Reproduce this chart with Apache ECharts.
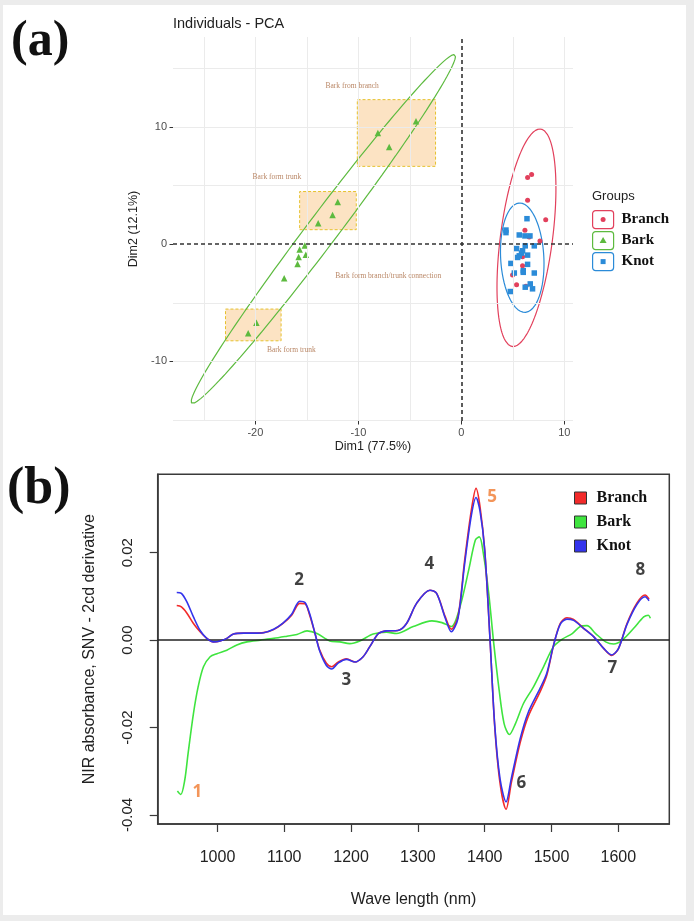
<!DOCTYPE html>
<html><head><meta charset="utf-8">
<script src="https://cdn.jsdelivr.net/npm/echarts/dist/echarts.min.js"></script>
<style>
html,body{margin:0;padding:0;background:#ececec;width:694px;height:921px;overflow:hidden;}
#frame{position:absolute;left:3px;top:5px;width:683px;height:910px;background:#fff;}
#chart{position:absolute;left:0;top:0;width:694px;height:921px;}
</style></head><body>
<div id="frame"></div><div id="chart"></div>
<script>
// ===== Panel (a): PCA individuals =====
const groupNames = ['Branch', 'Bark', 'Knot'];
const groupColors = ['#E2405C', '#5DBA3F', '#2B8BD8'];
const branchPts = [[6.44,5.7],[6.83,5.95],[6.44,3.75],[8.2,2.1],[6.18,1.2],[6.6,0.62],[7.64,0.28],[5.95,-1.07],[5.95,-1.84],[4.98,-2.63],[5.37,-3.47],[6.28,-3.59]];
const barkPts = [[-8.1,9.5],[-7.0,8.3],[-4.4,10.5],[-12.0,3.6],[-12.5,2.5],[-13.9,1.8],[-15.2,-0.1],[-15.7,-0.45],[-15.8,-1.1],[-15.1,-0.9],[-15.9,-1.7],[-17.2,-2.9],[-19.9,-6.7],[-20.7,-7.6]];
const knotPts = [[6.38,2.18],[4.34,1.21],[4.34,0.99],[5.63,0.79],[6.18,0.71],[6.67,0.71],[7.09,-0.14],[6.21,-0.14],[5.37,-0.37],[5.95,-0.56],[6.44,-0.93],[5.63,-0.99],[5.47,-1.13],[5.85,-0.76],[4.82,-1.64],[6.44,-1.72],[5.15,-2.46],[6.02,-2.26],[6.02,-2.4],[7.09,-2.46],[6.7,-3.39],[6.92,-3.81],[6.21,-3.67],[4.76,-4.04]];
// confidence ellipses: [centerX, centerY, tipVecX, tipVecY, horizontalHalfWidth]
const branchEllipse = [6.33, 0.55, 1.3, 9.29, 2.55];
const barkEllipse = [-13.4, 1.3, 12.7, 14.9, 1.86];
const knotEllipse = [5.92, -1.15, -0.24, 4.67, 2.1];
// annotation boxes [x1, y1, x2, y2] and labels
const boxes = [[-10.1,6.65,-2.5,12.35],[-15.7,1.24,-10.2,4.5],[-22.9,-8.25,-17.5,-5.54]];
const noteTexts = ['Bark from branch','Bark form trunk','Bark form branch/trunk connection','Bark form trunk'];
const notePos = [[-10.6,13.5],[-17.9,5.7],[-7.1,-2.7],[-16.5,-9.0]];
const pcaXTicks = [-20,-10,0,10];
const pcaYTicks = [-10,0,10];
const pcaXGrid = [-25,-20,-15,-10,-5,5,10];
const pcaYGrid = [-15,-10,-5,5,10,15];

// ===== Panel (b): NIR spectra =====
const wl = [939,946,954,964,974,984,994,1004,1014,1024,1039,1054,1069,1084,1098,1111,1123,1131,1138,1146,1153,1163,1171,1181,1193,1206,1218,1228,1241,1253,1270,1283,1298,1318,1328,1341,1350,1360,1370,1380,1387,1393,1400,1408,1415,1423,1432,1440,1453,1465,1483,1493,1503,1513,1523,1533,1548,1563,1578,1590,1600,1613,1628,1640,1646];
const branchAbs = [0.0079,0.0076,0.0062,0.0038,0.0019,0.0004,-0.0004,-0.0002,0.0004,0.0014,0.0016,0.0016,0.0017,0.0024,0.0038,0.0057,0.0084,0.0083,0.0057,0.0015,-0.0023,-0.0053,-0.0061,-0.0050,-0.0043,-0.0050,-0.0038,-0.0015,0.0015,0.0021,0.0022,0.0038,0.0084,0.0114,0.0107,0.0053,0.0025,0.0053,0.0183,0.0297,0.0347,0.0305,0.0206,0.0000,-0.0198,-0.0328,-0.0387,-0.0325,-0.0235,-0.0175,-0.0118,-0.0080,-0.0012,0.0038,0.0051,0.0047,0.0027,0.0008,-0.0019,-0.0035,-0.0020,0.0038,0.0085,0.0103,0.0094];
const knotAbs = [0.0109,0.0107,0.0088,0.0053,0.0022,0.0004,-0.0004,-0.0002,0.0004,0.0014,0.0016,0.0016,0.0017,0.0025,0.0039,0.0059,0.0089,0.0086,0.0060,0.0015,-0.0025,-0.0058,-0.0066,-0.0052,-0.0044,-0.0050,-0.0038,-0.0015,0.0015,0.0021,0.0022,0.0038,0.0084,0.0114,0.0107,0.0050,0.0019,0.0050,0.0175,0.0285,0.0326,0.0295,0.0206,0.0000,-0.0195,-0.0318,-0.0370,-0.0315,-0.0226,-0.0166,-0.0110,-0.0075,-0.0012,0.0036,0.0048,0.0045,0.0027,0.0008,-0.0019,-0.0034,-0.0020,0.0036,0.0082,0.0099,0.0090];
const barkWl = [940,945,951,956,964,971,979,989,999,1014,1029,1044,1064,1084,1104,1119,1134,1149,1168,1183,1198,1213,1233,1253,1268,1293,1321,1336,1350,1363,1376,1386,1392,1398,1406,1413,1421,1429,1437,1446,1458,1473,1488,1503,1516,1531,1543,1553,1566,1581,1593,1606,1623,1638,1645,1648];
const barkAbs = [-0.0345,-0.0353,-0.0320,-0.0259,-0.0168,-0.0107,-0.0061,-0.0038,-0.0031,-0.0023,-0.0011,-0.0004,0.0000,0.0004,0.0009,0.0013,0.0021,0.0015,-0.0002,-0.0004,-0.0008,-0.0002,0.0014,0.0018,0.0015,0.0031,0.0044,0.0040,0.0031,0.0076,0.0160,0.0229,0.0236,0.0198,0.0107,0.0000,-0.0107,-0.0191,-0.0216,-0.0191,-0.0145,-0.0107,-0.0061,-0.0015,0.0002,0.0015,0.0031,0.0033,0.0015,-0.0004,-0.0009,0.0000,0.0027,0.0053,0.0057,0.0050];
const lineColors = ['#F22A2A', '#3FE43F', '#3434EC'];
const bandLabels = ['1','2','3','4','5','6','7','8'];
const bandPos = [[970,-0.0347],[1122,0.0137],[1193,-0.0092],[1317,0.0173],[1411,0.0327],[1455,-0.0328],[1591,-0.0065],[1633,0.016]];
const bandOrange = [true,false,false,false,true,false,false,false];
const nirXTicks = [1000,1100,1200,1300,1400,1500,1600];
const nirYTicks = [-0.04,-0.02,0,0.02];

function ellipsePath(e) {
  const pts = [];
  for (let i = 0; i <= 160; i++) {
    const t = 2 * Math.PI * i / 160;
    pts.push([e[0] + e[2] * Math.cos(t) + e[4] * Math.sin(t), e[1] + e[3] * Math.cos(t)]);
  }
  return pts;
}

const chart = echarts.init(document.getElementById('chart'), null, {renderer: 'canvas'});
const sans = 'Liberation Sans, Arial, sans-serif';
const serif = 'Liberation Serif, Times New Roman, serif';

const series = [];
// gridlines (panel a)
series.push({
  type: 'line', xAxisIndex: 0, yAxisIndex: 0, data: [[0, 0]], showSymbol: false, symbolSize: 0, z: 0,
  lineStyle: {width: 0}, silent: true,
  markLine: {
    silent: true, symbol: 'none', label: {show: false},
    lineStyle: {color: '#EBEBEB', width: 1, type: 'solid'},
    data: pcaXGrid.map(v => ({xAxis: v})).concat(pcaYGrid.map(v => ({yAxis: v})))
  }
});
// annotation boxes
series.push({
  type: 'line', xAxisIndex: 0, yAxisIndex: 0, data: [[0, 0]], showSymbol: false, z: 1,
  lineStyle: {width: 0}, silent: true,
  markArea: {
    silent: true,
    itemStyle: {color: '#FCE3C3', borderColor: '#E6C22E', borderWidth: 1, borderType: [3, 2]},
    data: boxes.map(b => [{coord: [b[0], b[1]]}, {coord: [b[2], b[3]]}])
  }
});
// ellipses
[branchEllipse, barkEllipse, knotEllipse].forEach((e, i) => {
  series.push({
    type: 'line', xAxisIndex: 0, yAxisIndex: 0, data: ellipsePath(e), showSymbol: false, z: 2,
    smooth: false, silent: true, lineStyle: {color: groupColors[i], width: 1.2}
  });
});
// dashed zero lines
series.push({
  type: 'line', xAxisIndex: 0, yAxisIndex: 0, data: [[0, 0]], showSymbol: false, z: 3,
  lineStyle: {width: 0}, silent: true,
  markLine: {
    silent: true, symbol: 'none', label: {show: false},
    lineStyle: {color: '#333', width: 1.6, type: [4, 3]},
    data: [{xAxis: 0}, {yAxis: 0}]
  }
});
// points
const ptsList = [branchPts, barkPts, knotPts];
const symbols = ['circle', 'triangle', 'rect'];
const sizes = [5, 6.5, 5.5];
ptsList.forEach((p, i) => {
  series.push({
    name: 'pca-' + groupNames[i], type: 'scatter', xAxisIndex: 0, yAxisIndex: 0, data: p, z: 4,
    symbol: symbols[i], symbolSize: sizes[i], itemStyle: {color: groupColors[i], opacity: 1}
  });
});
// annotation texts
series.push({
  type: 'scatter', xAxisIndex: 0, yAxisIndex: 0, z: 5, symbolSize: 0, silent: true,
  data: notePos.map((p, i) => ({value: p, name: noteTexts[i]})),
  label: {show: true, position: 'inside', formatter: '{b}', fontFamily: serif, fontSize: 7.5, color: '#A8683E'}
});

// ===== panel b series =====
const nirOrder = [1, 0, 2];
nirOrder.forEach(i => {
  const xs = i === 1 ? barkWl : wl;
  const ys = i === 0 ? branchAbs : (i === 1 ? barkAbs : knotAbs);
  const s = {
    name: groupNames[i], type: 'line', xAxisIndex: 1, yAxisIndex: 1,
    data: xs.map((x, k) => [x, ys[k]]), showSymbol: false, smooth: 0.3,
    color: lineColors[i], lineStyle: {color: lineColors[i], width: 1.6}, z: 3 + nirOrder.indexOf(i)
  };
  if (i === 0) {
    s.markLine = {silent: true, symbol: 'none', label: {show: false},
      lineStyle: {color: '#222', width: 1.5, type: 'solid'}, data: [{yAxis: 0}]};
  }
  series.push(s);
});
series.push({
  type: 'scatter', xAxisIndex: 1, yAxisIndex: 1, symbolSize: 0, z: 10, silent: true,
  data: bandPos.map((p, i) => ({value: p, name: bandLabels[i],
    label: {color: bandOrange[i] ? '#F07A30' : '#111'}})),
  label: {show: true, position: 'inside', formatter: '{b}', fontFamily: 'Open Sans, sans-serif',
    fontWeight: 'bold', fontSize: 17}
});

const option = {
  animation: false,
  grid: [
    {left: 173, top: 37, width: 400, height: 384, show: false},
    {left: 157.7, top: 474.3, width: 511.6, height: 349.7, show: true, borderColor: '#3a3a3a', borderWidth: 1.5, backgroundColor: 'transparent'}
  ],
  xAxis: [
    {type: 'value', gridIndex: 0, min: -28, max: 10.85,
      axisLine: {show: false, onZero: false}, splitLine: {show: false},
      axisTick: {show: true, customValues: pcaXTicks, length: 3.5, lineStyle: {color: '#333'}},
      axisLabel: {customValues: pcaXTicks, color: '#4D4D4D', fontSize: 11, fontFamily: sans, margin: 6},
      name: 'Dim1 (77.5%)', nameLocation: 'middle', nameGap: 19,
      nameTextStyle: {color: '#222', fontSize: 12.5, fontFamily: sans}},
    {type: 'value', gridIndex: 1, min: 910.5, max: 1676.3,
      axisLine: {show: true, onZero: false, lineStyle: {color: '#3a3a3a', width: 1.5}}, splitLine: {show: false},
      axisTick: {show: true, customValues: nirXTicks, length: 8, lineStyle: {color: '#3a3a3a', width: 1.2}},
      axisLabel: {customValues: nirXTicks, color: '#222', fontSize: 16, fontFamily: sans, margin: 26,
        formatter: v => String(v)},
      name: 'Wave length (nm)', nameLocation: 'middle', nameGap: 68,
      nameTextStyle: {color: '#222', fontSize: 16, fontFamily: sans}}
  ],
  yAxis: [
    {type: 'value', gridIndex: 0, min: -15.1, max: 17.7,
      axisLine: {show: false, onZero: false}, splitLine: {show: false},
      axisTick: {show: true, customValues: pcaYTicks, length: 3.5, lineStyle: {color: '#333'}},
      axisLabel: {customValues: pcaYTicks, color: '#4D4D4D', fontSize: 11, fontFamily: sans, margin: 6},
      name: 'Dim2 (12.1%)', nameLocation: 'middle', nameGap: 19,
      nameTextStyle: {color: '#222', fontSize: 12.5, fontFamily: sans}},
    {type: 'value', gridIndex: 1, min: -0.04206, max: 0.03792,
      axisLine: {show: true, onZero: false, lineStyle: {color: '#3a3a3a', width: 1.5}}, splitLine: {show: false},
      axisTick: {show: true, customValues: nirYTicks, length: 8, lineStyle: {color: '#3a3a3a', width: 1.2}},
      axisLabel: {customValues: nirYTicks, rotate: 90, color: '#222', fontSize: 15, fontFamily: sans, margin: 22,
        formatter: v => v.toFixed(2)},
      name: 'NIR absorbance, SNV - 2cd derivative', nameLocation: 'middle', nameGap: 60,
      nameTextStyle: {color: '#222', fontSize: 16, fontFamily: sans}}
  ],
  legend: {
    data: groupNames, left: 569, top: 485, orient: 'vertical', icon: 'rect',
    itemWidth: 12, itemHeight: 12, itemGap: 8, selectedMode: false,
    itemStyle: {borderColor: '#333', borderWidth: 1},
    textStyle: {fontFamily: serif, fontWeight: 'bold', fontSize: 16, color: '#111', padding: [0, 0, 0, 5]}
  },
  graphic: [
    {type: 'text', left: 11, top: 17, style: {text: '(a)', font: 'bold 50px ' + serif, fill: '#111'}},
    {type: 'text', left: 7, top: 464, style: {text: '(b)', font: 'bold 52px ' + serif, fill: '#111'}},
    {type: 'text', left: 173, top: 16, style: {text: 'Individuals - PCA', font: '14.5px ' + sans, fill: '#222'}},
    {type: 'text', left: 592, top: 190, style: {text: 'Groups', font: '13px ' + sans, fill: '#222'}},
    // legend keys (panel a)
    ...groupNames.map((g, i) => ({
      type: 'group', left: 592, top: 210 + i * 21,
      children: [
        {type: 'rect', shape: {x: 0, y: 0, width: 21, height: 18, r: 3}, style: {fill: '#fff', stroke: groupColors[i], lineWidth: 1.2}},
        i === 0 ? {type: 'circle', shape: {cx: 10.5, cy: 9, r: 2.5}, style: {fill: groupColors[i]}} :
        i === 1 ? {type: 'polygon', shape: {points: [[10.5, 5.5], [14, 11.5], [7, 11.5]]}, style: {fill: groupColors[i]}} :
                  {type: 'rect', shape: {x: 8, y: 6.5, width: 5, height: 5}, style: {fill: groupColors[i]}},
        {type: 'text', x: 29, y: 9, style: {text: g, font: 'bold 15px ' + serif, fill: '#111', textVerticalAlign: 'middle'}}
      ]
    }))
  ],
  series: series
};
chart.setOption(option);
</script>
</body></html>
